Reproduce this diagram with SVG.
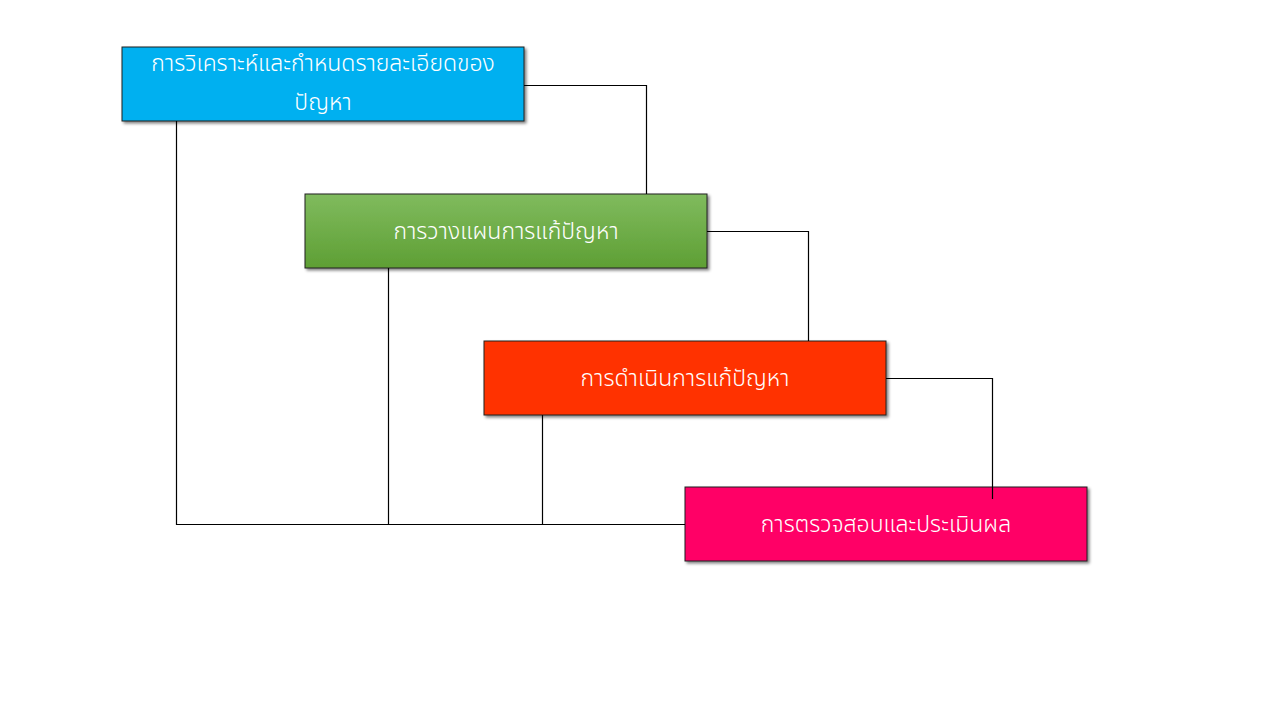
<svg xmlns="http://www.w3.org/2000/svg" width="1280" height="720" viewBox="0 0 1280 720">
<style>
.box{stroke:#222;stroke-width:1;filter:url(#sh)}
.t{font-family:"Noto Sans Thai","Noto Sans","DejaVu Sans",sans-serif;font-size:23px;fill:#fff;font-weight:300;text-anchor:middle}
.c{fill:none;stroke:#000;stroke-width:1.2}
</style>
<defs>
<filter id="sh" x="-5%" y="-10%" width="115%" height="130%">
<feGaussianBlur in="SourceAlpha" stdDeviation="1.5"/>
<feOffset dx="1.5" dy="2" result="b"/>
<feComponentTransfer><feFuncA type="linear" slope="0.5"/></feComponentTransfer>
<feMerge><feMergeNode/><feMergeNode in="SourceGraphic"/></feMerge>
</filter>
<linearGradient id="g" x1="0" y1="0" x2="0" y2="1">
<stop offset="0" stop-color="#80BB5E"/>
<stop offset="1" stop-color="#5E9F34"/>
</linearGradient>
</defs>
<rect width="1280" height="720" fill="#fff"/>
<g id="n1">
<rect class="box" x="122" y="47" width="402" height="74" fill="#00B0F0"/>
<text class="t" x="323" y="71">การวิเคราะห์และกำหนดรายละเอียดของ</text>
<text class="t" x="323" y="110">ปัญหา</text>
</g>
<g id="n2">
<rect class="box" x="305" y="194" width="402" height="74" fill="url(#g)"/>
<text class="t" x="506" y="239">การวางแผนการแก้ปัญหา</text>
</g>
<g id="n3">
<rect class="box" x="484" y="341" width="402" height="74" fill="#FF3300"/>
<text class="t" x="685" y="386">การดำเนินการแก้ปัญหา</text>
</g>
<g id="n4">
<rect class="box" x="685" y="487" width="402" height="74" fill="#FF0066"/>
<text class="t" x="886" y="532">การตรวจสอบและประเมินผล</text>
</g>
<g id="connectors">
<polyline class="c" points="524,85.5 646.5,85.5 646.5,194"/>
<polyline class="c" points="707,231.5 808.5,231.5 808.5,341"/>
<polyline class="c" points="886,378.5 992.5,378.5 992.5,499"/>
<polyline class="c" points="176.5,121 176.5,524.5 685,524.5"/>
<line class="c" x1="388.5" y1="268" x2="388.5" y2="524"/>
<line class="c" x1="542.5" y1="415" x2="542.5" y2="525"/>
</g>
</svg>
